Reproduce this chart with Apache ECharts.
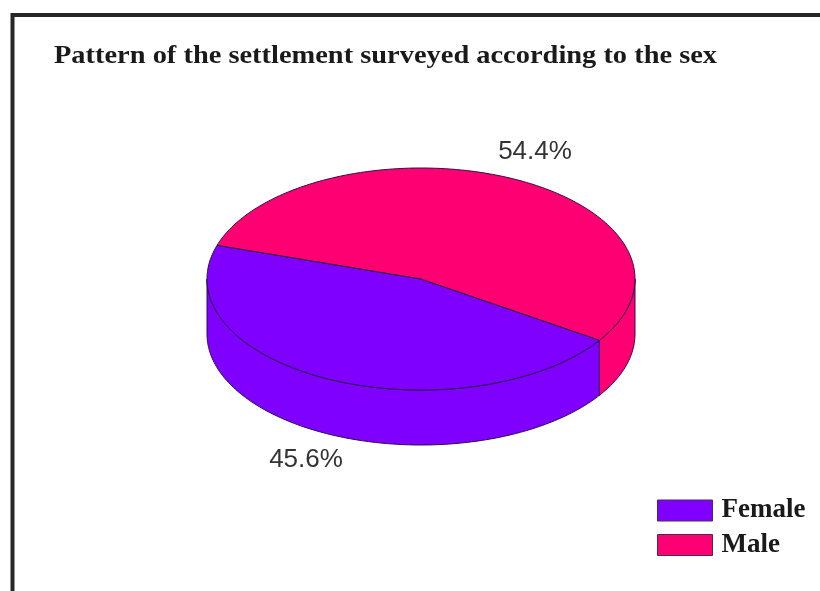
<!DOCTYPE html>
<html><head><meta charset="utf-8">
<style>html,body{margin:0;padding:0;background:#fff}#c{width:820px;height:591px}</style>
<script src="https://cdn.jsdelivr.net/npm/echarts@6/dist/echarts.min.js"></script>
</head><body><div id="c"></div>
<script>
const categories = ['Female', 'Male'];
const shares = [45.6, 54.4];
const colors = ['#7f00ff', '#ff0073'];
const titleText = 'Pattern of the settlement surveyed according to the sex';

const CX = 421, CY = 279, RX = 214, RY = 111, DEPTH = 55, START = 33.5;
const LABEL_POS = [[306, 460], [535, 152]];
const EDGE = '#2c0f4a';
const total = shares.reduce((a, b) => a + b, 0);

function pt(deg, dy) {
  const r = deg * Math.PI / 180;
  return [CX + RX * Math.cos(r), CY + dy + RY * Math.sin(r)];
}
function arcPts(a, b, dy) {
  const out = [], n = Math.max(2, Math.ceil(Math.abs(b - a)));
  for (let i = 0; i <= n; i++) out.push(pt(a + (b - a) * i / n, dy));
  return out;
}
function makeSlice(index) {
  return function (params, api) {
    const v = api.value(0);
    let a0 = START;
    for (let i = 0; i < index; i++) a0 += shares[i] / total * 360;
    const a1 = a0 + v / total * 360;
    const children = [];
    const style = { fill: colors[index], stroke: EDGE, lineWidth: 1 };
    [[0, 180], [360, 540]].forEach(([lo, hi]) => {
      const s = Math.max(a0, lo), e = Math.min(a1, hi);
      if (e > s) {
        const top = arcPts(s, e, 0), bottom = arcPts(e, s, DEPTH);
        children.push({ type: 'polygon', shape: { points: top.concat(bottom) }, style });
      }
    });
    children.push({ type: 'polygon', shape: { points: [[CX, CY]].concat(arcPts(a0, a1, 0)) }, style });
    children.push({
      type: 'text',
      style: {
        text: v.toFixed(1) + '%', x: LABEL_POS[index][0], y: LABEL_POS[index][1],
        align: 'center', verticalAlign: 'middle',
        font: '26px "Liberation Sans"', fill: '#333'
      }
    });
    return { type: 'group', children };
  };
}

const chart = echarts.init(document.getElementById('c'), null, { renderer: 'canvas' });
chart.setOption({
  animation: false,
  backgroundColor: '#fff',
  legend: {
    show: true, orient: 'vertical', left: 657, top: 497, padding: 0,
    data: categories, itemWidth: 55, itemHeight: 21, itemGap: 7.5, icon: 'rect',
    itemStyle: { borderColor: '#4a2a55', borderWidth: 1 },
    selectedMode: false,
    textStyle: { fontFamily: 'Liberation Serif', fontWeight: 'bold', fontSize: 27, color: '#1a1a1a', padding: [0, 0, 0, 4] }
  },
  graphic: [{
    type: 'rect', silent: true, z: -1,
    shape: { x: 12.5, y: 15, width: 840, height: 620 },
    style: { fill: 'transparent', stroke: '#262626', lineWidth: 4 }
  }, {
    type: 'text', silent: true, x: 54, y: 57, scaleX: 1.137, originX: 0, originY: 0,
    style: {
      text: titleText, align: 'left', verticalAlign: 'middle',
      font: 'bold 25px "Liberation Serif"', fill: '#1a1a1a'
    }
  }],
  series: categories.map((name, i) => ({
    type: 'custom', name, coordinateSystem: 'none',
    itemStyle: { color: colors[i] },
    data: [[shares[i]]],
    renderItem: makeSlice(i)
  }))
});
</script></body></html>
